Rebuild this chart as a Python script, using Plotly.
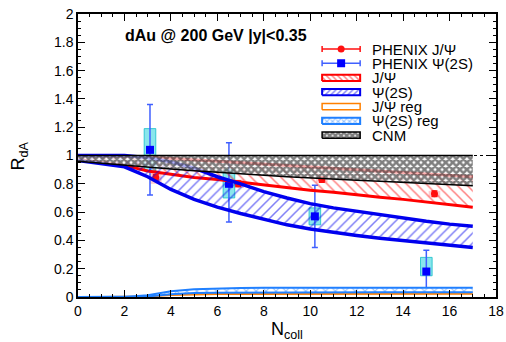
import plotly.graph_objects as go

# ---------------- data ----------------
x_curve = [0, 1, 2, 3, 4, 5, 6, 7, 8, 9, 10, 11, 12, 13, 14, 15, 16, 17]

jpsi_up = [1.0, 1.0, 0.995, 0.99, 0.98, 0.97, 0.96, 0.95, 0.94, 0.93, 0.92, 0.91, 0.90, 0.893, 0.885, 0.873, 0.86, 0.85]
jpsi_lo = [0.97, 0.95, 0.93, 0.89, 0.865, 0.845, 0.83, 0.81, 0.79, 0.775, 0.755, 0.74, 0.72, 0.705, 0.69, 0.67, 0.65, 0.634]

psi2s_up = [1.0, 1.0, 1.0, 0.985, 0.955, 0.91, 0.85, 0.80, 0.745, 0.70, 0.66, 0.63, 0.605, 0.58, 0.555, 0.535, 0.515, 0.50]
psi2s_lo = [0.965, 0.945, 0.92, 0.85, 0.76, 0.69, 0.635, 0.59, 0.55, 0.51, 0.48, 0.455, 0.435, 0.415, 0.40, 0.38, 0.365, 0.35]

jpsi_reg_up = [0, 0, 0, 0.005, 0.018, 0.024, 0.026, 0.027, 0.027, 0.027, 0.028, 0.028, 0.028, 0.028, 0.028, 0.028, 0.028, 0.028]
jpsi_reg_lo = [0, 0, 0, 0.003, 0.012, 0.017, 0.019, 0.02, 0.02, 0.02, 0.021, 0.021, 0.021, 0.021, 0.021, 0.021, 0.021, 0.021]

psi2s_reg_up = [0, 0, 0, 0.012, 0.04, 0.055, 0.062, 0.064, 0.065, 0.065, 0.065, 0.065, 0.065, 0.065, 0.065, 0.065, 0.065, 0.065]
psi2s_reg_lo = [0, 0, 0, 0.004, 0.02, 0.028, 0.03, 0.031, 0.031, 0.032, 0.032, 0.032, 0.032, 0.033, 0.033, 0.033, 0.033, 0.033]

cnm_up = [1.0] * 18
cnm_lo = [0.96, 0.945, 0.93, 0.917, 0.905, 0.892, 0.88, 0.87, 0.86, 0.85, 0.84, 0.832, 0.825, 0.818, 0.81, 0.802, 0.795, 0.787]

# PHENIX J/psi
jpsi_x = [3.35, 6.9, 10.5, 15.35]
jpsi_y = [0.845, 0.80, 0.83, 0.73]
jpsi_err = [0.02, 0.02, 0.02, 0.02]
jpsi_sys_lo = [0.80, 0.77, 0.81, 0.71]
jpsi_sys_hi = [0.88, 0.83, 0.85, 0.75]

# PHENIX psi(2S)
psi_x = [3.1, 6.5, 10.2, 15.0]
psi_y = [1.04, 0.80, 0.57, 0.18]
psi_err_hi = [0.32, 0.29, 0.22, 0.15]
psi_err_lo = [0.32, 0.27, 0.22, 0.14]
psi_sys_lo = [0.89, 0.70, 0.51, 0.15]
psi_sys_hi = [1.19, 0.90, 0.63, 0.28]

x_ticks = [0, 2, 4, 6, 8, 10, 12, 14, 16, 18]
y_ticks = [0, 0.2, 0.4, 0.6, 0.8, 1, 1.2, 1.4, 1.6, 1.8, 2]

legend_labels = ['PHENIX J/Ψ', 'PHENIX Ψ(2S)', 'J/Ψ', 'Ψ(2S)', 'J/Ψ reg', 'Ψ(2S) reg', 'CNM']

FONT = 'Liberation Sans, Arial, sans-serif'

# styles
RED = '#ff0000'
BLUE = '#0000ee'
ORANGE = '#ff8000'
LBLUE = '#2080ff'
band_styles = {
    'J/Ψ': dict(color=RED, lw=3, shape='\\', size=7, sol=0.22, bg='rgba(0,0,0,0)'),
    'Ψ(2S)': dict(color=BLUE, lw=3.5, shape='/', size=7, sol=0.22, bg='rgba(0,0,0,0)'),
    'J/Ψ reg': dict(color=ORANGE, lw=1.5, shape='', size=8, sol=0.1, bg='rgba(0,0,0,0)'),
    'Ψ(2S) reg': dict(color=LBLUE, lw=2, shape='x', size=7, sol=0.3, bg='white'),
    'CNM': dict(color='black', lw=1.5, shape='x', size=5, sol=0.75, bg='rgba(255,255,255,0.7)'),
}

# ---------------- figure ----------------
fig = go.Figure()

# systematic boxes
fig.add_trace(go.Bar(x=jpsi_x, y=[h - l for h, l in zip(jpsi_sys_hi, jpsi_sys_lo)], base=jpsi_sys_lo,
                     width=0.5, marker=dict(color='rgba(255,140,150,0.45)', line=dict(width=0)),
                     showlegend=False, hoverinfo='skip'))
fig.add_trace(go.Bar(x=psi_x, y=[h - l for h, l in zip(psi_sys_hi, psi_sys_lo)], base=psi_sys_lo,
                     width=0.5, marker=dict(color='rgba(40,210,220,0.55)', line=dict(color='rgba(20,190,200,0.8)', width=1)),
                     showlegend=False, hoverinfo='skip'))

fig.add_trace(go.Scatter(x=jpsi_x, y=jpsi_y, mode='markers', showlegend=False,
                         marker=dict(color='#ff1010', size=7, symbol='circle'),
                         error_y=dict(type='data', array=jpsi_err, color='#ff1010', thickness=1.2, width=3)))
fig.add_trace(go.Scatter(x=psi_x, y=psi_y, mode='markers', showlegend=False,
                         marker=dict(color='#0000ff', size=8, symbol='square'),
                         error_y=dict(type='data', array=psi_err_hi, arrayminus=psi_err_lo,
                                      color='#4060ff', thickness=1.5, width=3)))


def band(lo, up, name, xref='x', yref='y', xs=None):
    s = band_styles[name]
    xs = x_curve if xs is None else xs
    fig.add_trace(go.Scatter(x=xs, y=lo, mode='lines', line=dict(color=s['color'], width=s['lw']),
                             showlegend=False, hoverinfo='skip', xaxis=xref, yaxis=yref))
    fig.add_trace(go.Scatter(x=xs, y=up, mode='lines', line=dict(color=s['color'], width=s['lw']),
                             fill='tonexty', fillcolor='rgba(0,0,0,0)', showlegend=False, hoverinfo='skip',
                             xaxis=xref, yaxis=yref,
                             fillpattern=dict(shape=s['shape'], size=s['size'], solidity=s['sol'],
                                              fgcolor=s['color'], bgcolor=s['bg'])))


band(jpsi_lo, jpsi_up, 'J/Ψ')
band(psi2s_lo, psi2s_up, 'Ψ(2S)')
band(jpsi_reg_lo, jpsi_reg_up, 'J/Ψ reg')
band(psi2s_reg_lo, psi2s_reg_up, 'Ψ(2S) reg')
band(cnm_lo, cnm_up, 'CNM')

# ---------------- custom legend (on an overlay axis spanning the plot area, 0..1) ----------------
leg_x0, leg_x1 = 0.584, 0.675
leg_rows = [0.876, 0.826, 0.774, 0.724, 0.673, 0.622, 0.572]
half_h = 0.011
xc = (leg_x0 + leg_x1) / 2
hw = (leg_x1 - leg_x0) / 2
fig.add_trace(go.Scatter(x=[xc], y=[leg_rows[0]], xaxis='x2', yaxis='y2', mode='markers', showlegend=False,
                         marker=dict(color='#ff1010', size=7), hoverinfo='skip',
                         error_x=dict(type='data', array=[hw], color='#ff1010', thickness=1.5, width=3)))
fig.add_trace(go.Scatter(x=[xc], y=[leg_rows[1]], xaxis='x2', yaxis='y2', mode='markers', showlegend=False,
                         marker=dict(color='#0000ff', size=8, symbol='square'), hoverinfo='skip',
                         error_x=dict(type='data', array=[hw], color='#4060ff', thickness=1.5, width=3)))
for name, yr in zip(legend_labels[2:], leg_rows[2:]):
    s = band_styles[name]
    lw = min(s['lw'], 2)
    fig.add_trace(go.Scatter(x=[leg_x0, leg_x1, leg_x1, leg_x0, leg_x0],
                             y=[yr - half_h, yr - half_h, yr + half_h, yr + half_h, yr - half_h],
                             xaxis='x2', yaxis='y2', mode='lines', line=dict(color=s['color'], width=lw),
                             fill='toself', fillcolor='rgba(0,0,0,0)', showlegend=False, hoverinfo='skip',
                             fillpattern=dict(shape=s['shape'], size=max(4, s['size'] - 3), solidity=min(0.8, s['sol'] + 0.15),
                                              fgcolor=s['color'], bgcolor=s['bg'])))
for lab, yr in zip(legend_labels, leg_rows):
    fig.add_annotation(x=0.699, y=yr, xref='x2', yref='y2', text=lab, showarrow=False,
                       xanchor='left', yanchor='middle', font=dict(size=15, color='black', family=FONT))

fig.add_hline(y=1, line=dict(color='black', width=1, dash='dot'), layer='below')

fig.add_annotation(x=1.94, y=1.85, xref='x', yref='y', text='<b>dAu @ 200 GeV |y|<0.35</b>',
                   showarrow=False, xanchor='left', yanchor='middle',
                   font=dict(size=16, color='black', family=FONT))

# axis titles
fig.add_annotation(x=-0.139, y=0.5, xref='paper', yref='paper', text='R<sub>dA</sub>', textangle=-90,
                   showarrow=False, xanchor='center', yanchor='middle', font=dict(size=18, family=FONT))
fig.add_annotation(x=0.5, y=-0.117, xref='paper', yref='paper', text='N<sub>coll</sub>',
                   showarrow=False, xanchor='center', yanchor='middle', font=dict(size=18, family=FONT))

axis_common = dict(showline=True, linecolor='black', linewidth=1.5, mirror='allticks', ticks='inside',
                   ticklen=7, tickcolor='black', showgrid=False, zeroline=False, automargin=False,
                   tickfont=dict(size=14, color='black'))
fig.update_layout(
    xaxis=dict(range=[0, 18], tickvals=x_ticks,
               minor=dict(dtick=0.5, ticks='inside', ticklen=3, tickcolor='black'), **axis_common),
    yaxis=dict(range=[0, 2], tickvals=y_ticks, ticktext=[f'{v:g}' for v in y_ticks],
               minor=dict(dtick=0.05, ticks='inside', ticklen=3, tickcolor='black'), **axis_common),
    xaxis2=dict(range=[0, 1], overlaying='x', visible=False, fixedrange=True),
    yaxis2=dict(range=[0, 1], overlaying='y', visible=False, fixedrange=True),
    width=506, height=342,
    margin=dict(l=78, r=10, t=14, b=45),
    plot_bgcolor='white', paper_bgcolor='white',
    font=dict(family=FONT, color='black'),
    barmode='overlay',
    showlegend=False,
)

fig.write_html('out.html', config={'displayModeBar': False},
               post_script="document.body.style.margin='0';document.body.style.overflow='hidden';")
